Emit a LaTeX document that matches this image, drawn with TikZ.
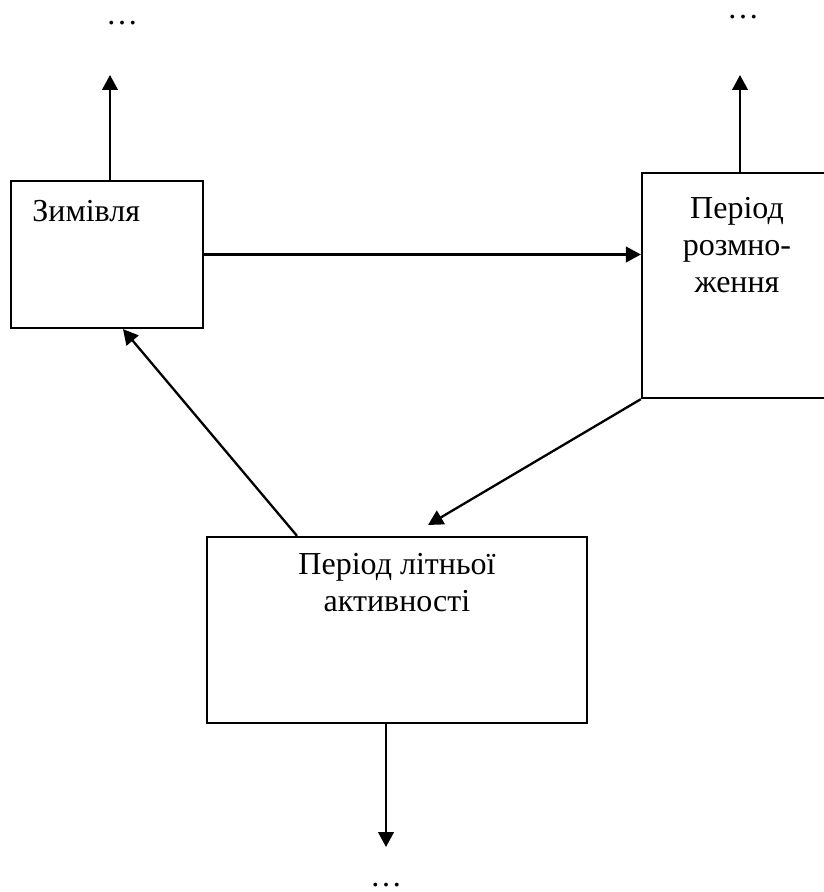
\documentclass[tikz,border=0pt]{standalone}
\usepackage{fontspec}
\setmainfont{Liberation Serif}
\usetikzlibrary{arrows.meta,positioning}

\begin{document}
\begin{tikzpicture}[x=0.5pt,y=-0.5pt,
  box/.style={draw,line width=1.15pt,inner sep=0pt},
  lbl/.style={inner sep=0pt,font=\fontsize{16}{18.6}\selectfont,align=center},
  arr/.style={line width=1.15pt,-{Triangle[length=7.5pt,width=7.8pt]}}]
  \useasboundingbox (0,0) rectangle (823,892);
  % boxes
  \node[box,minimum width=96pt,minimum height=73.5pt] (zim) at (107,254.5) {};
  \node[box,minimum width=98pt,minimum height=112.5pt] (rozm) at (740,285.5) {};
  \node[box,minimum width=190pt,minimum height=93pt] (lit) at (397,630) {};
  \node[lbl,anchor=base west] (zimtxt) at (32,222) {Зимівля};
  \node[lbl,anchor=north] (rozmtxt) at (737,197) {Період\\розмно-\\ження};
  \node[lbl,anchor=north] (littxt) at (397,553) {Період літньої\\активності};
  % free ends
  \coordinate (up1) at (110,75); \coordinate (up2) at (740,75);
  \coordinate (down) at (386,847);
  \coordinate (intip) at (428,525);
  \coordinate (back) at (297,537); \coordinate (backtip) at (123,329);
  \node[lbl] (dots1) at (122,23) {…};
  \node[lbl] (dots2) at (743,17) {…};
  \node[lbl] (dots3) at (386,885) {…};
  % arrows
  \draw[arr] (up1 |- zim.north) -- (up1);
  \draw[arr] (rozm.north) -- (up2);
  \draw[arr] (zim.east) -- (zim.east -| rozm.west);
  \draw[arr] (rozm.south west) -- (intip);
  \draw[arr] (back |- lit.north) -- (backtip |- zim.south);
  \draw[arr] (down |- lit.south) -- (down);
\end{tikzpicture}
\end{document}
